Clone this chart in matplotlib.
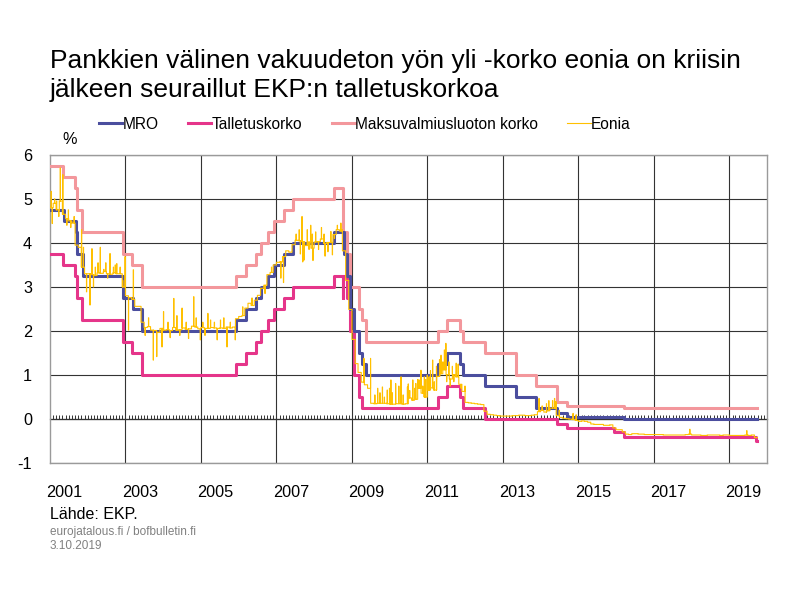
import numpy as np
import matplotlib
matplotlib.use("Agg")
import matplotlib.pyplot as plt
import matplotlib.dates as mdates

plt.rcParams['font.family'] = ['Liberation Sans', 'DejaVu Sans']
plt.rcParams['axes.unicode_minus'] = False

# ---- EKP:n ohjauskorot: muutospäivät ja uudet tasot (%) ----
mro_dates = ['2001-01-01', '2001-05-15', '2001-09-05', '2001-09-18', '2001-11-14',
             '2002-12-11', '2003-03-12', '2003-06-09', '2005-12-06', '2006-03-08',
             '2006-06-15', '2006-08-09', '2006-10-11', '2006-12-13', '2007-03-14',
             '2007-06-13', '2008-07-09', '2008-10-15', '2008-11-12', '2008-12-10',
             '2009-01-21', '2009-03-11', '2009-04-08', '2009-05-13', '2011-04-13',
             '2011-07-13', '2011-11-09', '2011-12-14', '2012-07-11', '2013-05-08',
             '2013-11-13', '2014-06-11', '2014-09-10', '2016-03-16']
mro_values = [4.75, 4.50, 4.25, 3.75, 3.25, 2.75, 2.50, 2.00, 2.25, 2.50,
              2.75, 3.00, 3.25, 3.50, 3.75, 4.00, 4.25, 3.75, 3.25, 2.50,
              2.00, 1.50, 1.25, 1.00, 1.25, 1.50, 1.25, 1.00, 0.75, 0.50,
              0.25, 0.15, 0.05, 0.00]

dep_dates = ['2001-01-01', '2001-05-11', '2001-08-31', '2001-09-18', '2001-11-09',
             '2002-12-06', '2003-03-07', '2003-06-06', '2005-12-06', '2006-03-08',
             '2006-06-15', '2006-08-09', '2006-10-11', '2006-12-13', '2007-03-14',
             '2007-06-13', '2008-07-09', '2008-10-08', '2008-10-09', '2008-11-12',
             '2008-12-10', '2009-01-21', '2009-03-11', '2009-04-08', '2011-04-13',
             '2011-07-13', '2011-11-09', '2011-12-14', '2012-07-11', '2014-06-11',
             '2014-09-10', '2015-12-09', '2016-03-16', '2019-09-18']
dep_values = [3.75, 3.50, 3.25, 2.75, 2.25, 1.75, 1.50, 1.00, 1.25, 1.50,
              1.75, 2.00, 2.25, 2.50, 2.75, 3.00, 3.25, 2.75, 3.25, 2.75,
              2.00, 1.00, 0.50, 0.25, 0.50, 0.75, 0.50, 0.25, 0.00, -0.10,
              -0.20, -0.30, -0.40, -0.50]

mlf_dates = ['2001-01-01', '2001-05-11', '2001-08-31', '2001-09-18', '2001-11-09',
             '2002-12-06', '2003-03-07', '2003-06-06', '2005-12-06', '2006-03-08',
             '2006-06-15', '2006-08-09', '2006-10-11', '2006-12-13', '2007-03-14',
             '2007-06-13', '2008-07-09', '2008-10-08', '2008-10-09', '2008-11-12',
             '2008-12-10', '2009-03-11', '2009-04-08', '2009-05-13', '2011-04-13',
             '2011-07-13', '2011-11-09', '2011-12-14', '2012-07-11', '2013-05-08',
             '2013-11-13', '2014-06-11', '2014-09-10', '2016-03-16']
mlf_values = [5.75, 5.50, 5.25, 4.75, 4.25, 3.75, 3.50, 3.00, 3.25, 3.50,
              3.75, 4.00, 4.25, 4.50, 4.75, 5.00, 5.25, 4.75, 4.25, 3.75,
              3.00, 2.50, 2.25, 1.75, 2.00, 2.25, 2.00, 1.75, 1.50, 1.00,
              0.75, 0.40, 0.30, 0.25]

last_day = '2019-09-30'

# ---- Eonia: kuukausitaso 1/2001-9/2019 ----
eonia_first_month = '2001-01'
eonia_monthly = [
    4.80, 4.90, 4.75, 4.95, 4.65, 4.55, 4.50, 4.45, 3.95, 3.90, 3.45, 3.30,   # 2001
    3.30, 3.28, 3.26, 3.32, 3.31, 3.35, 3.30, 3.29, 3.32, 3.30, 3.30, 3.00,   # 2002
    2.80, 2.76, 2.72, 2.56, 2.56, 2.20, 2.08, 2.10, 2.02, 2.01, 1.97, 2.06,   # 2003
    2.02, 2.03, 2.01, 2.08, 2.02, 2.03, 2.07, 2.04, 2.05, 2.11, 2.09, 2.05,   # 2004
    2.08, 2.06, 2.06, 2.08, 2.07, 2.06, 2.07, 2.06, 2.09, 2.07, 2.09, 2.28,   # 2005
    2.33, 2.35, 2.52, 2.63, 2.58, 2.70, 2.81, 2.97, 3.04, 3.28, 3.33, 3.50,   # 2006
    3.56, 3.57, 3.69, 3.82, 3.79, 3.96, 4.06, 4.05, 4.03, 3.94, 4.02, 3.88,   # 2007
    4.02, 4.03, 4.09, 3.99, 4.01, 4.01, 4.19, 4.30, 4.27, 3.82, 3.15, 2.49,   # 2008
    1.81, 1.26, 1.06, 0.84, 0.78, 0.70, 0.36, 0.35, 0.36, 0.36, 0.36, 0.35,   # 2009
    0.34, 0.34, 0.35, 0.35, 0.34, 0.35, 0.48, 0.43, 0.45, 0.70, 0.59, 0.50,   # 2010
    0.66, 0.71, 0.66, 0.97, 1.03, 1.12, 1.01, 0.91, 1.01, 0.96, 0.79, 0.63,   # 2011
    0.38, 0.37, 0.36, 0.35, 0.34, 0.33, 0.18, 0.11, 0.10, 0.09, 0.08, 0.07,   # 2012
    0.07, 0.07, 0.07, 0.08, 0.08, 0.09, 0.09, 0.08, 0.08, 0.09, 0.10, 0.17,   # 2013
    0.20, 0.16, 0.19, 0.25, 0.25, 0.08, 0.04, 0.02, 0.01, 0.00, -0.01, -0.03, # 2014
    -0.05, -0.04, -0.05, -0.07, -0.11, -0.12, -0.12, -0.12, -0.14, -0.14, -0.13, -0.20,  # 2015
    -0.24, -0.24, -0.29, -0.34, -0.35, -0.33, -0.33, -0.34, -0.34, -0.35, -0.35, -0.35,  # 2016
    -0.35, -0.35, -0.35, -0.36, -0.36, -0.36, -0.36, -0.36, -0.36, -0.36, -0.35, -0.34,  # 2017
    -0.36, -0.36, -0.36, -0.37, -0.37, -0.36, -0.36, -0.36, -0.36, -0.37, -0.36, -0.36,  # 2018
    -0.37, -0.37, -0.37, -0.37, -0.37, -0.36, -0.37, -0.36, -0.42,                       # 2019
]

# yksittäiset päiväpiikit (päivä, taso)
eonia_spike_dates = [
    # 2001-2002
    '2001-01-12', '2001-01-22', '2001-02-14', '2001-03-05', '2001-03-26', '2001-04-10',
    '2001-05-04', '2001-06-12', '2001-06-27', '2001-07-20', '2001-08-22', '2001-11-02',
    '2001-11-20', '2001-12-20', '2002-01-22', '2002-02-10', '2002-02-25', '2002-03-15',
    '2002-04-10', '2002-05-02', '2002-06-05', '2002-06-24', '2002-07-12', '2002-08-04',
    '2002-09-06', '2002-09-24', '2002-10-08', '2002-11-10', '2002-12-05', '2002-12-28',
    # 2003-2006
    '2003-01-30', '2003-03-18', '2003-07-10', '2003-08-12', '2003-09-27', '2003-10-30',
    '2003-12-20', '2004-01-04', '2004-02-16', '2004-03-08', '2004-04-12', '2004-05-12',
    '2004-06-09', '2004-07-01', '2004-08-10', '2004-09-02', '2004-10-22', '2004-11-15',
    '2004-12-25', '2005-01-18', '2005-02-08', '2005-03-08', '2005-04-03', '2005-05-10',
    '2005-06-06', '2005-07-08', '2005-08-09', '2005-09-09', '2005-10-11', '2005-11-28',
    '2006-02-08', '2006-05-09', '2006-09-12', '2006-11-14',
    # 2007-2008
    '2007-02-12', '2007-03-10', '2007-07-10', '2007-08-09', '2007-08-20', '2007-09-05',
    '2007-09-12', '2007-09-24', '2007-10-26', '2007-11-12', '2007-11-28', '2007-12-14',
    '2007-12-20', '2008-01-15', '2008-02-12', '2008-03-11', '2008-04-05', '2008-04-15',
    '2008-05-13', '2008-06-10', '2008-06-25', '2008-07-15', '2008-08-12', '2008-09-15',
    '2008-09-30',
    # 2009-2011
    '2009-04-26', '2009-06-30', '2009-08-10', '2009-09-06', '2009-09-28', '2009-10-22',
    '2009-11-10', '2009-12-08', '2009-12-30', '2010-01-12', '2010-01-26', '2010-02-28',
    '2010-03-30', '2010-04-20', '2010-05-11', '2010-06-21', '2010-06-30', '2010-07-13',
    '2010-08-12', '2010-08-30', '2010-09-10', '2010-09-29', '2010-10-12', '2010-10-30',
    '2010-11-16', '2010-12-02', '2010-12-14', '2010-12-31', '2011-01-10', '2011-01-19',
    '2011-01-31', '2011-02-20', '2011-03-08', '2011-03-29', '2011-04-28', '2011-05-12',
    '2011-05-30', '2011-06-14', '2011-06-28', '2011-07-06', '2011-07-27', '2011-08-09',
    '2011-08-31', '2011-09-13', '2011-10-06', '2011-10-25', '2011-11-22', '2011-12-30',
    # 2013-2019
    '2013-12-16', '2014-01-15', '2014-02-26', '2014-03-20', '2014-04-26', '2014-05-15',
    '2014-05-28', '2014-06-30', '2014-11-10', '2014-12-10', '2017-12-14', '2019-06-18',
]
eonia_spike_values = [
    # 2001-2002
    5.17, 4.44, 5.00, 4.95, 4.60, 5.70,
    5.55, 4.40, 4.75, 4.35, 4.60, 4.30,
    3.90, 2.89, 2.59, 3.87, 3.00, 3.45,
    3.55, 3.90, 3.40, 3.55, 3.20, 3.76,
    3.45, 3.50, 3.53, 3.45, 3.15, 3.69,
    # 2003-2006
    2.02, 3.39, 1.90, 2.30, 1.34, 1.42,
    1.64, 2.44, 2.20, 1.85, 2.74, 2.35,
    1.90, 2.52, 2.20, 1.83, 2.78, 2.30,
    1.80, 2.20, 1.90, 2.40, 2.25, 2.20,
    1.80, 2.25, 2.30, 1.64, 2.20, 1.80,
    2.55, 2.75, 2.85, 3.45,
    # 2007-2008
    3.20, 3.10, 4.20, 4.30, 3.75, 4.60,
    3.57, 3.61, 4.30, 3.85, 4.40, 4.20,
    3.60, 4.25, 3.85, 4.35, 4.20, 3.70,
    3.80, 4.26, 3.73, 4.10, 4.40, 4.45,
    4.30,
    # 2009-2011
    1.38, 1.38, 0.55, 0.70, 0.60, 0.73,
    0.50, 0.66, 0.70, 0.89, 0.60, 0.81,
    0.75, 0.96, 0.55, 0.73, 0.80, 0.65,
    0.89, 0.70, 0.81, 0.90, 0.89, 1.11,
    0.75, 0.96, 0.90, 1.00, 0.95, 0.96,
    1.10, 1.34, 0.85, 1.20, 1.35, 1.45,
    1.30, 1.57, 1.72, 0.85, 1.30, 0.75,
    1.20, 0.85, 1.27, 1.25, 0.70, 0.75,
    # 2013-2019
    0.47, 0.30, 0.35, 0.42, 0.42, 0.47,
    0.40, 0.20, 0.13, 0.10, -0.23, -0.26,
]

series_names = ['MRO', 'Talletuskorko', 'Maksuvalmiusluoton korko', 'Eonia']
colors = ['#4B4E9E', '#E5358A', '#F3979C', '#FFC000']


def step_series(dates, values):
    d = np.array(list(dates) + [last_day], dtype='datetime64[D]')
    v = np.array(list(values) + [values[-1]], dtype=float)
    return d, v


# Eonia: kuukausitaso + piikit (piikki kestää pari päivää)
month_d = np.arange(eonia_first_month, '2019-10', dtype='datetime64[M]').astype('datetime64[D]')
base_v = np.array(eonia_monthly, dtype=float)
sp_d = np.array(eonia_spike_dates, dtype='datetime64[D]')
sp_v = np.array(eonia_spike_values, dtype=float)
back_d = sp_d + 2
back_v = base_v[np.searchsorted(month_d, back_d, side='right') - 1]
e_d = np.concatenate([month_d, sp_d, back_d, np.array([last_day], dtype='datetime64[D]')])
e_v = np.concatenate([base_v, sp_v, back_v, [base_v[-1]]])
order = np.argsort(e_d, kind='stable')
e_d, e_v = e_d[order], e_v[order]

fig = plt.figure(figsize=(8, 6), dpi=100)
ax = fig.add_axes([0.0625, 0.228, 0.8963, 0.514])

d, v = step_series(mro_dates, mro_values)
l1, = ax.step(d, v, where='post', color=colors[0], lw=2.2, zorder=4)
d, v = step_series(dep_dates, dep_values)
l2, = ax.step(d, v, where='post', color=colors[1], lw=2.2, zorder=3)
d, v = step_series(mlf_dates, mlf_values)
l3, = ax.step(d, v, where='post', color=colors[2], lw=2.2, zorder=3)
l4, = ax.step(e_d, e_v, where='post', color=colors[3], lw=0.8, zorder=5)

ax.set_xlim(np.datetime64('2001-01-01'), np.datetime64('2020-01-01'))
ax.set_ylim(-1, 6)

grid_years = np.arange(2003, 2020, 2)
ax.set_xticks([np.datetime64(f'{y}-01-01') for y in grid_years])
ax.set_xticklabels([])
label_years = np.arange(2001, 2020, 2)
ax.set_xticks([np.datetime64(f'{y}-05-20') for y in label_years], minor=True)
ax.set_xticklabels([str(y) for y in label_years], minor=True)
ax.tick_params(axis='x', which='both', length=0, labelsize=11.7, pad=16)
ax.set_yticks(range(-1, 7))
ax.tick_params(axis='y', length=0, labelsize=11.7, pad=13)
ax.grid(which='major', color='#333333', lw=0.8)
ax.set_axisbelow(True)
for s in ax.spines.values():
    s.set_color('#9a9a9a')
    s.set_linewidth(1.0)

# kuukausittaiset pikkumerkit nollaviivalla
zero_ax = ax.secondary_xaxis(1 / 7)
months = np.arange('2001-02', '2020-01', dtype='datetime64[M]').astype('datetime64[D]')
zero_ax.set_xticks(mdates.date2num(months))
zero_ax.tick_params(axis='x', direction='in', length=3, width=0.7, color='#333333',
                    labelbottom=False, labeltop=False)
zero_ax.spines['bottom'].set_color('#333333')
zero_ax.spines['bottom'].set_linewidth(0.9)

fig.text(0.0625, 0.918,
         'Pankkien välinen vakuudeton yön yli -korko eonia on kriisin\n'
         'jälkeen seuraillut EKP:n talletuskorkoa',
         fontsize=19, va='top', ha='left', linespacing=1.25)
fig.legend([l1, l2, l3, l4], series_names, loc='center', bbox_to_anchor=(0.456, 0.793),
           ncol=4, frameon=False, fontsize=11.2, handlelength=1.5, handletextpad=0.0,
           columnspacing=1.9)
fig.text(0.078, 0.767, '%', fontsize=11.7, ha='left', va='center')
fig.text(0.0625, 0.142, 'Lähde: EKP.', fontsize=11.5, va='center')
fig.text(0.0625, 0.113, 'eurojatalous.fi / bofbulletin.fi', fontsize=8.5, color='#808080', va='center')
fig.text(0.0625, 0.09, '3.10.2019', fontsize=8.5, color='#808080', va='center')

fig.savefig('out.png', dpi=100)
